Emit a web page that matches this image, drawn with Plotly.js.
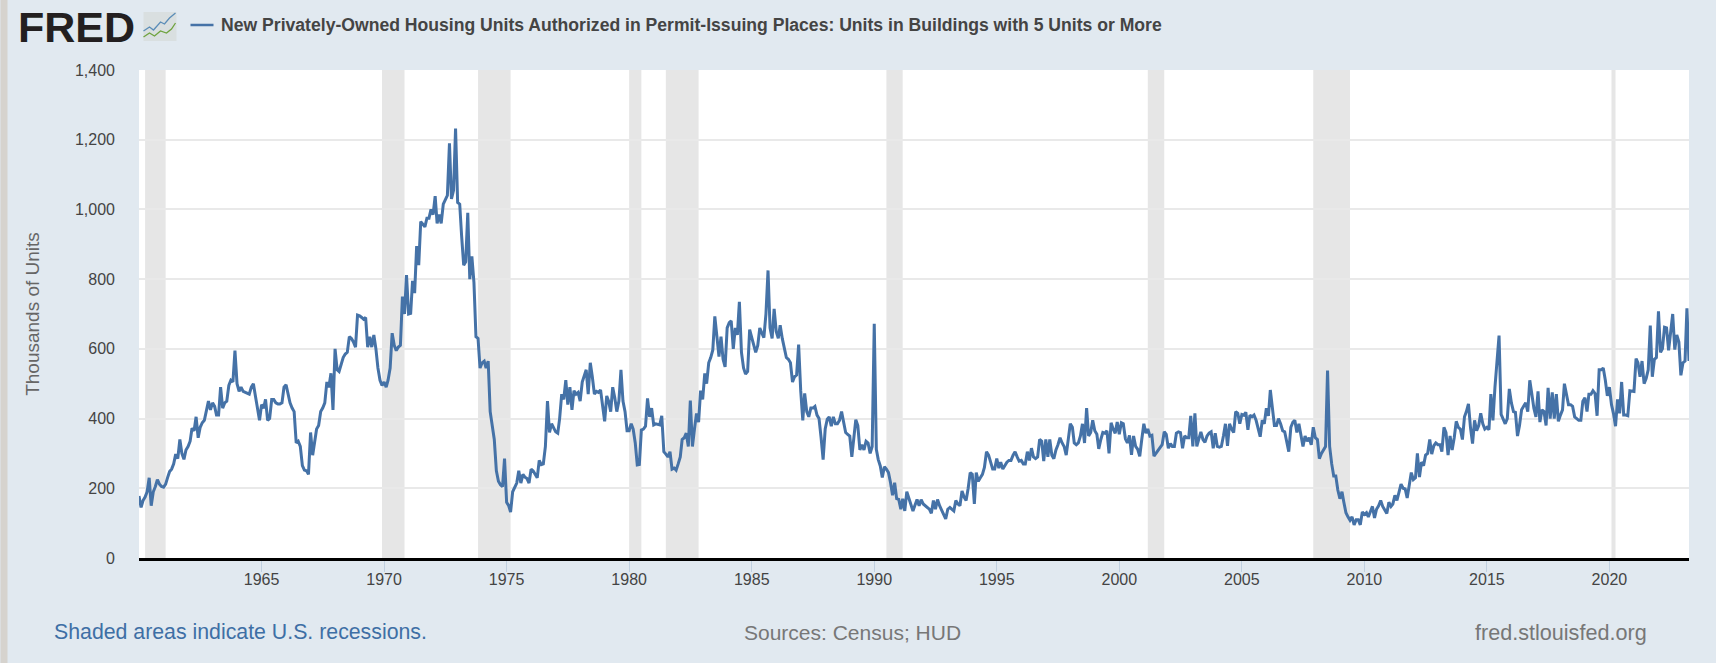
<!DOCTYPE html>
<html><head><meta charset="utf-8">
<script src="https://cdn.plot.ly/plotly-3.0.1.min.js"></script>
<style>html,body{margin:0;padding:0;background:#e1e9f0;overflow:hidden}</style>
</head><body><div id="chart" style="width:1716px;height:663px"></div>
<script>
const seriesName="New Privately-Owned Housing Units Authorized in Permit-Issuing Places: Units in Buildings with 5 Units or More";
const firstYear=1960;
const y1960s=[
178,145,165,175,190,230,150,190,205,225,212,205,
203,212,230,248,255,270,298,285,340,300,283,310,
320,335,372,365,405,345,375,388,395,420,450,425,
445,435,410,410,490,430,445,450,495,510,505,595,
500,478,490,478,475,472,470,490,500,465,430,395,
440,430,455,395,400,455,455,445,442,442,445,490,
497,465,445,430,420,330,335,320,265,252,250,240,
360,295,330,370,380,420,430,445,505,490,530,425,
600,540,535,560,575,585,590,635,630,620,605,697,
695,690,685,690,605,635,605,640,600,545,510,495];
const y1970s=[
505,490,510,545,645,610,595,605,610,750,700,812,
700,702,795,760,895,840,965,958,950,975,975,1000,
985,1038,960,985,960,1015,1030,1040,1190,1030,1055,1232,
1020,1015,925,840,850,990,800,865,790,635,630,545,
560,565,545,565,420,380,340,250,220,210,205,285,
160,150,132,190,205,215,250,215,240,232,228,215,
255,250,240,230,280,268,270,320,450,360,385,375,
362,358,400,470,455,510,440,490,425,480,470,475,
450,505,520,540,470,560,520,470,478,475,482,435,
392,465,450,420,490,460,420,450,540,450,420,365];
const y1980s=[
365,385,370,330,267,268,367,370,378,458,405,430,
382,385,383,382,408,305,298,290,305,255,258,252,
270,290,340,345,358,320,452,320,370,415,390,480,
455,530,500,560,575,597,693,640,578,635,570,548,
660,675,680,600,660,640,735,590,545,528,535,655,
630,610,590,610,660,645,632,700,825,660,630,715,
650,630,668,630,600,575,570,560,505,520,525,612,
480,395,472,420,405,430,430,435,410,400,345,282,
370,398,405,378,405,385,385,395,420,385,360,355,
350,290,350,397,380,310,325,310,335,330,300,320];
const y1990s=[
672,312,283,264,231,262,255,245,216,180,216,170,
168,140,170,135,190,170,150,135,152,168,150,167,
155,150,145,140,128,165,140,168,150,138,128,112,
140,145,140,135,165,155,150,192,175,165,200,245,
240,155,245,220,230,240,260,305,295,275,255,255,
285,258,275,255,265,275,280,280,295,305,290,278,
280,270,270,305,280,315,290,285,290,340,335,278,
340,290,340,295,285,310,325,345,330,320,295,340,
385,375,330,325,330,350,385,330,430,350,360,395,
365,355,313,340,360,358,365,300,388,370,358,390];
const y2000s=[
355,388,385,342,330,352,296,350,320,312,292,340,
385,358,370,350,352,292,300,310,318,325,362,355,
315,328,320,320,358,362,360,315,350,345,345,408,
320,415,320,340,362,340,332,350,358,362,315,358,
320,318,320,350,385,322,385,370,360,420,415,385,
412,410,418,368,410,405,410,395,370,348,395,385,
430,408,482,420,380,380,400,385,365,362,330,305,
375,390,395,360,385,345,320,350,335,345,325,375,
345,340,285,300,310,320,538,320,270,235,235,195,
170,190,160,130,118,108,118,95,110,110,95,132];
const y2010s=[
125,130,118,135,148,115,140,150,165,148,138,128,
160,148,155,180,165,190,212,200,198,172,205,245,
225,230,300,232,275,265,295,300,340,298,322,330,
325,325,305,375,360,295,350,310,345,392,375,370,
340,405,420,442,375,328,395,365,380,415,385,370,
375,368,470,395,490,560,638,412,400,385,400,485,
445,420,418,350,380,425,435,445,420,510,470,430,
405,478,390,425,420,380,488,400,475,400,470,392,
410,425,500,465,440,440,435,405,400,395,395,450,
460,420,470,470,480,472,408,540,540,545,510,465];
const y2020s=[
490,440,415,378,455,415,505,410,410,408,480,478,
478,572,560,520,565,500,515,540,667,520,570,575,
708,590,600,662,660,596,640,700,598,640,620,524,
560,565,716,565];
const values=[].concat(y1960s,y1970s,y1980s,y1990s,y2000s,y2010s,y2020s);
const dates=values.map((v,i)=>{
  const y=firstYear+Math.floor(i/12), m=String(i%12+1).padStart(2,'0');
  return y+'-'+m+'-01';
});
const recessionStart=['1960-04-01','1969-12-01','1973-11-01','1980-01-01','1981-07-01','1990-07-01','2001-03-01','2007-12-01','2020-02-01'];
const recessionEnd  =['1961-02-01','1970-11-01','1975-03-01','1980-07-01','1982-11-01','1991-03-01','2001-11-01','2009-06-01','2020-04-01'];
const xTickYears=[1965,1970,1975,1980,1985,1990,1995,2000,2005,2010,2015,2020];
const yTicks=[0,200,400,600,800,1000,1200,1400];
const yTickLabels=['0','200','400','600','800','1,000','1,200','1,400'];

const W=1716,H=663,L=138.5,R=1688.6,T=70,B=558;
const px=x=>(x-L)/(R-L), py=y=>(B-y)/(B-T);
const font='"Liberation Sans",Arial,sans-serif';
const note=(text,x,y,size,color,anchor,extra)=>Object.assign({text:text,xref:'paper',yref:'paper',x:px(x),y:py(y),
  xanchor:anchor||'left',yanchor:'middle',showarrow:false,font:{family:font,size:size,color:color}},extra||{});
const pth=(pts,color,w)=>({type:'path',xref:'paper',yref:'paper',layer:'above',
  path:pts.map((p,i)=>(i?'L':'M')+px(p[0])+','+py(p[1])).join(' '),line:{color:color,width:w}});

const shapes=recessionStart.map((s,i)=>({type:'rect',xref:'x',yref:'paper',x0:s,x1:recessionEnd[i],y0:0,y1:1,
  fillcolor:'#e6e6e6',line:{width:0},layer:'below'}));
shapes.push({type:'rect',xref:'paper',yref:'paper',x0:px(0),x1:px(7),y0:py(0),y1:py(H),fillcolor:'#d6d3ce',line:{width:0},layer:'below'});
shapes.push(pth([[190,25],[213,25]],'#4572a7',2.5));
shapes.push({type:'rect',xref:'paper',yref:'paper',x0:px(143),x1:px(176),y0:py(41),y1:py(12),fillcolor:'#d9dfe0',line:{width:0},layer:'below'});
shapes.push(pth([[143,31],[149,27],[153,30],[160,22],[164,24],[169,18],[175,13]],'#5b8db8',1.3));
shapes.push(pth([[143,37],[149,33],[154,36],[160,31],[166,33],[171,29],[175,23]],'#6fa33f',1.3));

Plotly.newPlot('chart',[{
  type:'scatter',mode:'lines',x:dates,y:values,name:seriesName,
  line:{color:'#4572a7',width:3,shape:'linear'},hoverinfo:'x+y'
}],{
  width:W,height:H,autosize:false,showlegend:false,
  paper_bgcolor:'#e1e9f0',plot_bgcolor:'#ffffff',
  margin:{l:L,r:W-R,t:T,b:H-B,pad:0},
  font:{family:font,size:16,color:'#444'},
  xaxis:{type:'date',range:['1960-01-01','2023-04-01'],tickmode:'array',
    tickvals:xTickYears.map(y=>y+'-01-01'),ticktext:xTickYears.map(String),
    ticks:'outside',ticklen:11,tickwidth:1,tickcolor:'#c0d0e0',ticklabelstandoff:-6,
    showgrid:false,zeroline:false,showline:true,linecolor:'#000',linewidth:3,
    tickfont:{family:font,size:16,color:'#444'}},
  yaxis:{range:[0,1400],tickmode:'array',tickvals:yTicks,ticktext:yTickLabels,
    ticks:'',ticklabelstandoff:23,showgrid:true,gridcolor:'#e9e9e9',gridwidth:1.5,zeroline:false,showline:false,
    tickfont:{family:font,size:16,color:'#444'},
    title:{text:'Thousands of Units',font:{family:font,size:19,color:'#666'},standoff:30}},
  shapes:shapes,
  annotations:[
    note('<b>FRED</b>',15,27,43,'#231f20','left',{}),
    note('<b>'+seriesName+'</b>',219,25,17.6,'#444'),
    note('Shaded areas indicate U.S. recessions.',51,632,21.3,'#3e6fa5'),
    note('Sources: Census; HUD',742,632,21,'#777'),
    note('fred.stlouisfed.org',1473,632,21.6,'#777')
  ]
},{displayModeBar:false,responsive:false});
</script></body></html>
